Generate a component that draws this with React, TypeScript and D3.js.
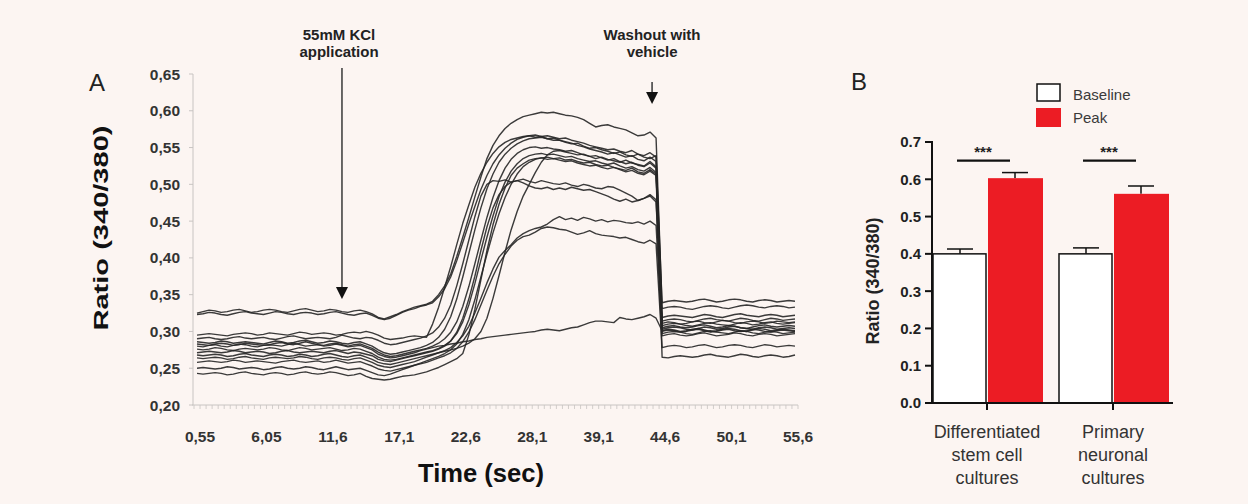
import React from 'react';
import * as d3 from 'd3';

// Fura-2 340/380 ratio of single cells (ratio x 1000), one sample every 0.5 s.
// Samples 0-76: baseline, 55 mM KCl response; samples 77-99: after washout.
const cell01 = [
  325,327,329,328,326,327,329,330,328,326,
  327,329,330,329,327,326,328,330,331,329,
  327,328,330,329,327,326,328,329,327,324,
  319,317,320,323,327,330,333,335,337,341,
  350,362,378,402,428,455,483,510,535,553,
  566,576,583,588,592,594,596,598,597,598,
  596,594,593,591,588,583,578,580,581,578,
  576,574,570,566,567,571,563,
  331,333,334,333,331,330,332,334,335,334,332,331,333,335,336,335,333,332,334,335,334,332,333,
];
const cell02 = [
  323,324,326,325,323,322,324,326,327,325,
  324,323,325,327,326,324,323,325,326,325,
  323,324,326,327,325,323,322,324,325,322,
  318,316,318,322,326,329,331,334,336,339,
  347,358,374,396,421,446,470,493,512,528,
  540,549,556,561,564,566,567,565,566,564,
  562,563,560,558,556,553,551,549,547,548,
  545,543,546,541,539,543,537,
  339,341,342,341,340,341,343,344,342,340,341,343,344,343,341,340,342,343,342,340,341,342,341,
];
const cell03 = [
  295,296,297,296,295,294,296,297,298,297,
  295,296,298,297,296,295,297,299,298,296,
  297,298,297,295,296,298,299,298,300,298,
  295,291,289,290,291,293,294,293,292,310,
  333,360,388,418,447,472,496,515,530,542,
  551,557,561,563,565,566,564,565,562,560,
  560,557,555,556,552,549,550,547,545,542,
  544,540,538,541,537,535,539,
  319,321,322,321,320,319,321,323,322,320,319,321,323,324,322,321,320,322,323,322,320,321,322,
];
const cell04 = [
  290,291,292,290,289,290,292,293,291,290,
  291,292,290,289,291,293,294,292,290,291,
  292,291,290,292,295,293,291,290,292,291,
  288,284,282,283,285,287,289,291,294,298,
  306,318,336,362,392,424,456,484,500,505,
  504,506,503,505,507,504,502,505,503,501,
  500,502,499,497,500,498,495,494,497,496,
  492,488,484,478,481,486,479,
  308,310,311,310,308,307,309,311,312,310,309,308,310,312,311,309,310,312,313,311,310,311,312,
];
const cell05 = [
  286,285,284,285,287,286,284,285,286,285,
  284,283,285,287,286,284,285,287,288,286,
  284,285,287,286,284,283,285,286,283,280,
  275,271,269,270,272,274,276,278,281,285,
  292,303,320,344,374,406,438,468,494,514,
  530,541,549,555,559,562,563,564,562,563,
  560,558,556,553,551,548,546,544,541,543,
  540,537,539,534,532,537,531,
  314,316,317,316,314,313,315,317,318,316,315,314,316,318,317,315,314,316,318,317,315,316,317,
];
const cell06 = [
  283,282,281,283,284,283,281,282,284,283,
  282,281,282,284,285,283,282,284,286,284,
  282,281,283,284,282,280,282,283,280,277,
  272,268,266,267,269,271,273,275,277,280,
  284,290,299,313,334,361,392,424,455,482,
  505,522,534,542,547,550,551,549,550,548,
  547,545,546,543,540,538,539,536,533,535,
  531,528,530,526,524,529,522,
  311,313,312,310,311,313,314,312,311,313,315,314,312,311,313,314,313,311,312,314,313,312,313,
];
// non-responding cell
const cell07 = [
  280,279,281,282,280,279,281,283,282,280,
  279,281,282,281,280,282,284,282,280,281,
  282,280,281,283,281,279,280,281,278,275,
  269,266,264,265,267,269,271,274,276,278,
  280,281,283,284,286,287,289,290,292,293,
  294,295,296,297,298,299,300,302,303,302,
  301,303,305,306,309,312,314,314,313,312,
  319,317,316,318,320,323,318,
  301,303,302,300,301,303,304,302,300,301,303,304,303,301,300,302,304,303,301,302,303,302,301,
];
const cell08 = [
  276,275,276,278,277,275,274,276,277,276,
  275,276,278,277,275,274,276,278,277,275,
  276,277,278,276,274,275,277,276,273,270,
  265,262,261,262,264,266,268,270,272,274,
  277,281,287,297,313,336,365,397,428,457,
  483,503,518,528,535,539,541,542,540,541,
  539,537,538,535,533,531,532,529,527,529,
  525,522,524,520,518,523,516,
  305,307,308,306,305,306,308,309,307,305,306,308,307,305,304,306,308,309,307,306,307,308,307,
];
const cell09 = [
  271,272,273,272,271,272,274,273,271,272,
  273,272,270,271,273,274,272,271,272,273,
  272,271,273,274,272,270,272,271,269,267,
  262,260,259,261,263,265,267,269,271,273,
  276,280,287,299,318,344,375,410,442,468,
  486,497,503,505,502,498,495,494,496,493,
  495,493,496,494,492,493,490,487,484,480,
  477,480,476,478,481,484,476,
  303,305,306,305,303,302,304,306,305,303,304,306,307,305,304,303,305,306,305,303,304,305,304,
];
const cell10 = [
  268,267,268,269,268,266,267,269,270,268,
  267,266,268,269,268,266,267,269,268,266,
  267,269,270,268,266,265,267,268,265,262,
  258,256,255,257,259,261,263,265,267,269,
  271,273,275,277,280,284,290,300,318,345,
  376,408,438,463,484,500,516,530,540,545,
  546,544,542,540,541,538,535,537,534,532,
  530,533,529,527,525,531,524,
  297,299,300,299,297,296,298,300,301,299,298,297,299,301,300,298,297,299,300,299,297,298,299,
];
const cell11 = [
  264,263,264,265,264,262,263,265,266,264,
  263,262,264,265,264,263,264,266,265,263,
  262,264,265,264,262,261,263,264,261,258,
  254,252,251,253,255,257,259,262,265,268,
  271,274,278,285,294,307,325,345,366,385,
  401,410,418,427,433,437,440,442,446,452,
  456,452,454,451,455,453,450,452,449,451,
  450,448,447,449,446,450,444,
  294,296,297,295,294,295,297,298,296,294,295,296,298,297,295,294,296,297,296,294,295,296,297,
];
const cell12 = [
  258,259,260,259,258,259,261,260,258,259,
  260,259,258,257,259,260,261,259,258,259,
  260,258,259,261,259,257,258,259,256,253,
  249,247,246,248,250,252,254,256,258,261,
  264,267,271,277,286,299,316,336,356,375,
  392,405,416,424,429,431,435,440,442,441,
  439,438,435,432,434,437,433,431,430,429,
  427,428,425,422,420,424,419,
  278,280,281,280,278,279,281,282,280,278,279,281,282,281,279,278,280,282,281,279,280,281,280,
];
const cell13 = [
  250,251,250,249,250,252,251,249,250,251,
  250,248,249,251,252,250,249,250,252,251,
  249,248,250,252,250,248,249,250,247,244,
  241,240,242,245,248,251,254,257,260,263,
  266,270,275,283,296,316,343,374,405,434,
  460,482,500,514,524,530,534,536,537,535,
  536,533,534,531,529,530,527,525,526,523,
  521,519,522,517,515,520,514,
  300,302,301,299,300,302,303,301,299,300,302,303,301,300,301,303,302,300,299,301,302,301,300,
];
const cell14 = [
  243,242,243,244,243,241,242,244,245,243,
  242,241,243,244,243,241,242,244,245,243,
  242,243,245,244,242,240,241,243,239,236,
  235,234,235,237,239,240,241,243,245,248,
  251,255,259,263,270,295,330,370,410,445,
  473,495,512,522,528,533,535,536,534,535,
  533,531,532,529,527,525,526,523,521,523,
  520,517,519,515,513,518,512,
  265,264,266,267,266,265,266,268,269,267,266,265,267,269,268,266,265,267,268,267,265,266,268,
];
const cells = [cell01, cell02, cell03, cell04, cell05, cell06, cell07,
  cell08, cell09, cell10, cell11, cell12, cell13, cell14];

// category axis: every 11th sample is labelled
const timeLabels = ['0,55', '6,05', '11,6', '17,1', '22,6', '28,1', '39,1', '44,6', '50,1', '55,6'];
const labelEvery = 11;
const ratioTicksA = [0.2, 0.25, 0.3, 0.35, 0.4, 0.45, 0.5, 0.55, 0.6, 0.65];
const kclSample = 24;      // sample where KCl was applied
const washoutSample = 76;  // sample where the washout starts

// Panel B: mean +/- SEM
const cultures = ['Differentiated stem cell cultures', 'Primary neuronal cultures'];
const cultureLines = [['Differentiated', 'stem cell', 'cultures'], ['Primary', 'neuronal', 'cultures']];
const baselineMean = [0.40, 0.40];
const baselineSem = [0.013, 0.016];
const peakMean = [0.603, 0.561];
const peakSem = [0.015, 0.021];
const ratioTicksB = [0, 0.1, 0.2, 0.3, 0.4, 0.5, 0.6, 0.7];
const significance = ['***', '***'];

const sans = "'Liberation Sans', Arial, Helvetica, sans-serif";
const RED = '#ec1c24';

export default function App() {
  const W = 1248, H = 504;
  const n = cell01.length;

  // ---- panel A scales
  const x = d3.scalePoint<number>().domain(d3.range(n)).range([197, 795]);
  const y = d3.scaleLinear().domain([0.2, 0.65]).range([405, 74]);
  const line = d3.line<number>()
    .x((_, i) => x(i) as number)
    .y((v) => y(v / 1000));
  const commaFmt = (v: number) => d3.format('.2f')(v).replace('.', ',');

  // ---- panel B scales
  const xB = d3.scaleBand<string>().domain(cultures).range([924, 1176]);
  const yB = d3.scaleLinear().domain([0, 0.7]).range([403, 142]);
  const barW = 54;
  const capW = 26;
  const centre = (g: string) => (xB(g) as number) + xB.bandwidth() / 2;

  const kx = x(kclSample) as number;
  const wx = (x(washoutSample) as number) - 4;

  return (
    <svg width={W} height={H} style={{ position: 'absolute', left: 0, top: 0 }}
      fontFamily={sans}>
      <rect x={0} y={0} width={W} height={H} fill="#fcf5f2" />

      {/* ================= Panel A ================= */}
      <text x={89} y={91} fontSize={24} fill="#222">A</text>

      {/* y axis */}
      <line x1={193} x2={193} y1={y(0.65)} y2={y(0.2)} stroke="#c8c4c2" strokeWidth={1} />
      {ratioTicksA.map((t) => (
        <g key={t}>
          <line x1={189} x2={193} y1={y(t)} y2={y(t)} stroke="#c8c4c2" />
          <text x={180} y={y(t)} dy="0.36em" textAnchor="end" fontSize={15.5}
            fontWeight="bold" fill="#333">{commaFmt(t)}</text>
        </g>
      ))}
      <text transform={`translate(108,228) rotate(-90)`} textAnchor="middle"
        fontSize={21} fontWeight="bold" fill="#111" textLength={205}
        lengthAdjust="spacingAndGlyphs">Ratio (340/380)</text>

      {/* x axis */}
      <line x1={192} x2={798} y1={y(0.2)} y2={y(0.2)} stroke="#c8c4c2" strokeWidth={1} />
      {d3.range(n + 1).map((i) => {
        const px = 194 + i * ((798 - 194) / n);
        return <line key={i} x1={px} x2={px} y1={y(0.2)} y2={y(0.2) + 4}
          stroke="#c8c4c2" strokeWidth={0.8} />;
      })}
      {timeLabels.map((lab, k) => (
        <text key={lab} x={(x(k * labelEvery) as number) + 3} y={442} textAnchor="middle"
          fontSize={15.5} fontWeight="bold" fill="#333">{lab}</text>
      ))}
      <text x={481} y={482} textAnchor="middle" fontSize={26} fontWeight="bold"
        fill="#111" textLength={126} lengthAdjust="spacingAndGlyphs">Time (sec)</text>

      {/* traces */}
      <g fill="none" stroke="#262626" strokeWidth={1.4} strokeLinejoin="round" strokeOpacity={0.9}>
        {cells.map((c, k) => <path key={k} d={line(c) as string} />)}
      </g>

      {/* KCl application marker */}
      <text x={kx - 3} y={40} textAnchor="middle" fontSize={15} fontWeight="bold" fill="#222">55mM KCl</text>
      <text x={kx - 3} y={57} textAnchor="middle" fontSize={15} fontWeight="bold" fill="#222">application</text>
      <line x1={kx} x2={kx} y1={68} y2={289} stroke="#444" strokeWidth={1.6} />
      <path d={`M${kx - 6},${287}L${kx + 6},${287}L${kx},${299}Z`} fill="#111" />

      {/* washout marker */}
      <text x={wx} y={40} textAnchor="middle" fontSize={15} fontWeight="bold" fill="#222">Washout with</text>
      <text x={wx} y={57} textAnchor="middle" fontSize={15} fontWeight="bold" fill="#222">vehicle</text>
      <line x1={wx} x2={wx} y1={82} y2={93} stroke="#444" strokeWidth={1.6} />
      <path d={`M${wx - 6},${92}L${wx + 6},${92}L${wx},${104}Z`} fill="#111" />

      {/* ================= Panel B ================= */}
      <text x={851} y={90} fontSize={24} fill="#222">B</text>

      {/* legend */}
      <rect x={1037} y={84} width={23} height={17} fill="#fff" stroke="#111" strokeWidth={1.5} />
      <rect x={1036} y={108} width={25} height={19} fill={RED} />
      <text x={1073} y={100} fontSize={15} fill="#3a3a3a">Baseline</text>
      <text x={1073} y={123} fontSize={15} fill="#3a3a3a">Peak</text>

      {/* bars */}
      {cultures.map((g, k) => {
        const c = centre(g);
        const bx = c - barW;
        const px = c + 1;
        const bTop = yB(baselineMean[k]);
        const pTop = yB(peakMean[k]);
        const bErr = yB(baselineMean[k] + baselineSem[k]);
        const pErr = yB(peakMean[k] + peakSem[k]);
        return (
          <g key={g}>
            <rect x={bx} y={bTop} width={barW - 1} height={yB(0) - bTop}
              fill="#fff" stroke="#111" strokeWidth={1.5} />
            <line x1={bx + barW / 2} x2={bx + barW / 2} y1={bTop} y2={bErr} stroke="#111" strokeWidth={1.5} />
            <line x1={bx + barW / 2 - capW / 2} x2={bx + barW / 2 + capW / 2} y1={bErr} y2={bErr}
              stroke="#111" strokeWidth={1.5} />
            <line x1={px + barW / 2} x2={px + barW / 2} y1={pTop} y2={pErr} stroke="#111" strokeWidth={1.5} />
            <line x1={px + barW / 2 - capW / 2} x2={px + barW / 2 + capW / 2} y1={pErr} y2={pErr}
              stroke="#111" strokeWidth={1.5} />
            <rect x={px} y={pTop} width={barW + 1} height={yB(0) - pTop} fill={RED} />
            {/* significance */}
            <line x1={c - 30} x2={c + 23} y1={yB(0.65)} y2={yB(0.65)} stroke="#111" strokeWidth={2.2} />
            <text x={c - 4} y={157} textAnchor="middle" fontSize={15} fontWeight="bold" fill="#222">
              {significance[k]}
            </text>
            {/* category label */}
            <line x1={c} x2={c} y1={yB(0)} y2={yB(0) + 7} stroke="#111" strokeWidth={2} />
            {cultureLines[k].map((t, j) => (
              <text key={j} x={c} y={438 + j * 23} textAnchor="middle" fontSize={18} fill="#333">{t}</text>
            ))}
          </g>
        );
      })}

      {/* axes B */}
      <line x1={932} x2={932} y1={yB(0.7) - 1} y2={yB(0) + 1} stroke="#111" strokeWidth={2} />
      <line x1={931} x2={1173} y1={yB(0)} y2={yB(0)} stroke="#111" strokeWidth={2} />
      {ratioTicksB.map((t) => (
        <g key={t}>
          <line x1={925} x2={932} y1={yB(t)} y2={yB(t)} stroke="#111" strokeWidth={2} />
          <text x={921} y={yB(t)} dy="0.36em" textAnchor="end" fontSize={15}
            fontWeight="bold" fill="#222">{d3.format('.1f')(t)}</text>
        </g>
      ))}
      <text transform={`translate(879,281) rotate(-90)`} textAnchor="middle"
        fontSize={18} fontWeight="bold" fill="#222">Ratio (340/380)</text>
    </svg>
  );
}
